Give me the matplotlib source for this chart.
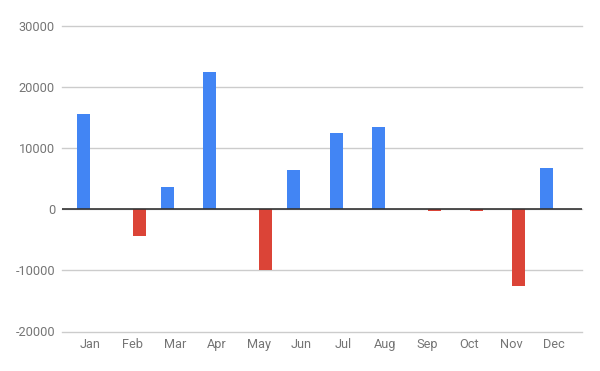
import numpy as np
import matplotlib.pyplot as plt

months = ['Jan', 'Feb', 'Mar', 'Apr', 'May', 'Jun',
          'Jul', 'Aug', 'Sep', 'Oct', 'Nov', 'Dec']
gains = [15600, 0, 3640, 22540, 0, 6430, 12490, 13470, 0, 0, 0, 6750]
losses = [0, -4450, 0, 0, -9870, 0, 0, 0, -360, -200, -12490, 0]
yticks = [-20000, -10000, 0, 10000, 20000, 30000]

plt.rcParams['font.family'] = ['Roboto', 'DejaVu Sans']

fig = plt.figure(figsize=(6, 3.71), dpi=100)
ax = fig.add_axes([62 / 600, 1 - 331.5 / 371, 520 / 600, (331.5 - 26) / 371])

x = np.arange(len(months))
w = 13 / 42
off = 7 / 42
ax.bar(x - off, gains, width=w, color='#4285F4', zorder=3)
ax.bar(x + off, losses, width=w, color='#DB4437', zorder=3)

ax.set_xlim(-0.5 - 7.5 / 42, 11.5 + 7.5 / 42)
ax.set_ylim(-20000, 30000)
ax.set_yticks(yticks)
ax.set_yticklabels([str(t) for t in yticks])
ax.set_xticks(x)
ax.set_xticklabels(months)

ax.grid(axis='y', color='#cccccc', linewidth=1, zorder=0)
for gl in ax.get_ygridlines():
    gl.set_clip_on(False)
ax.axhline(0, color='#333333', linewidth=1.2, zorder=4)
for s in ax.spines.values():
    s.set_visible(False)
ax.tick_params(axis='both', length=0, labelsize=9.2, labelcolor='#757575')
ax.tick_params(axis='y', pad=5)
ax.tick_params(axis='x', pad=5)

fig.savefig('out.png', dpi=100)
